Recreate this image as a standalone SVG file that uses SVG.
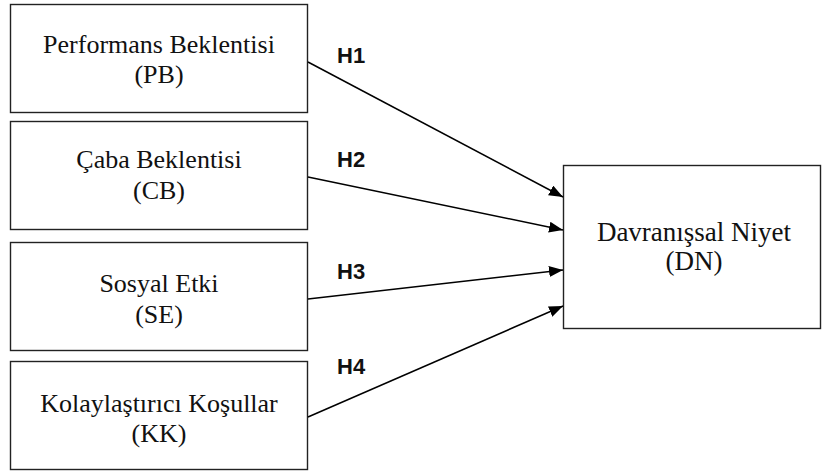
<svg xmlns="http://www.w3.org/2000/svg" width="822" height="473" viewBox="0 0 822 473">
<style>
.box{fill:#fff;stroke:#222;stroke-width:1.4}
.t{font-family:"Liberation Serif","Times New Roman",serif;font-size:26px;fill:#111;text-anchor:middle}
.h{font-family:"Liberation Sans",Arial,sans-serif;font-size:22px;font-weight:bold;fill:#111}
.c{stroke:#000;stroke-width:1.5;fill:none;marker-end:url(#arr)}
</style>
<defs>
<marker id="arr" markerUnits="userSpaceOnUse" markerWidth="15" markerHeight="12" refX="14" refY="5.5" orient="auto">
<path d="M0,0 L14,5.5 L0,11 z" fill="#000"/>
</marker>
</defs>
<g id="pb">
<rect class="box" x="10.5" y="4.5" width="297" height="108"/>
<text class="t" x="159" y="53">Performans Beklentisi</text>
<text class="t" x="159" y="83">(PB)</text>
</g>
<g id="cb">
<rect class="box" x="10.5" y="121.5" width="297" height="108"/>
<text class="t" x="159" y="168">Çaba Beklentisi</text>
<text class="t" x="159" y="199">(CB)</text>
</g>
<g id="se">
<rect class="box" x="10.5" y="242.5" width="297" height="108"/>
<text class="t" x="159" y="292">Sosyal Etki</text>
<text class="t" x="159" y="323">(SE)</text>
</g>
<g id="kk">
<rect class="box" x="10.5" y="361.5" width="297" height="108"/>
<text class="t" x="159" y="412">Kolaylaştırıcı Koşullar</text>
<text class="t" x="159" y="442">(KK)</text>
</g>
<g id="dn">
<rect class="box" x="563.5" y="165.5" width="257" height="163"/>
<text class="t" x="694" y="241" style="font-size:27px">Davranışsal Niyet</text>
<text class="t" x="694" y="270" style="font-size:27px">(DN)</text>
</g>
<g id="connectors">
<line class="c" x1="308" y1="62" x2="563" y2="197"/>
<line class="c" x1="308" y1="177" x2="563" y2="230"/>
<line class="c" x1="308" y1="299" x2="563" y2="270"/>
<line class="c" x1="308" y1="417" x2="563" y2="306"/>
<text class="h" x="337" y="63">H1</text>
<text class="h" x="337" y="167">H2</text>
<text class="h" x="337" y="279">H3</text>
<text class="h" x="337" y="374">H4</text>
</g>
</svg>
